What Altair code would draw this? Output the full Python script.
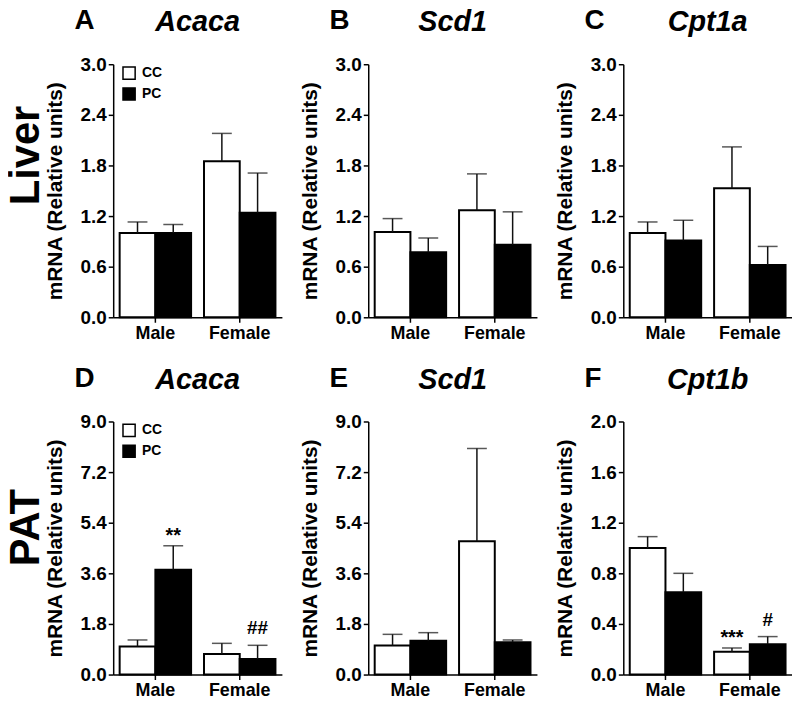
import altair as alt
import pandas as pd

letters = ["A", "B", "C", "D", "E", "F"]
genes = ["Acaca", "Scd1", "Cpt1a", "Acaca", "Scd1", "Cpt1b"]
tissues = ["Liver", "PAT"]
sexes = ["Male", "Female"]
groups = ["CC", "PC"]

# bar order in each panel: Male-CC, Male-PC, Female-CC, Female-PC
means = [
    [1.00, 1.00, 1.85, 1.24],
    [1.01, 0.77, 1.27, 0.86],
    [1.00, 0.91, 1.53, 0.62],
    [1.00, 3.73, 0.73, 0.55],
    [1.03, 1.20, 4.74, 1.15],
    [1.00, 0.65, 0.18, 0.24],
]
sems = [
    [0.13, 0.10, 0.33, 0.47],
    [0.16, 0.17, 0.43, 0.39],
    [0.13, 0.24, 0.49, 0.22],
    [0.23, 0.85, 0.38, 0.49],
    [0.40, 0.29, 3.30, 0.08],
    [0.09, 0.15, 0.03, 0.06],
]
y_max = [3.0, 3.0, 3.0, 9.0, 9.0, 2.0]
y_step = [0.6, 0.6, 0.6, 1.8, 1.8, 0.4]
sig_marks = [
    ["", "", "", ""],
    ["", "", "", ""],
    ["", "", "", ""],
    ["", "**", "", "##"],
    ["", "", "", ""],
    ["", "", "***", "#"],
]

FONT = "Liberation Sans"
W, H = 170, 255


def panel(i):
    df = pd.DataFrame({
        "sex": [s for s in sexes for g in groups],
        "group": [g for s in sexes for g in groups],
        "mean": means[i],
        "upper": [m + e for m, e in zip(means[i], sems[i])],
        "star": [m if "*" in m else "" for m in sig_marks[i]],
        "hash": [m if "#" in m else "" for m in sig_marks[i]],
    })
    base = alt.Chart(df)
    x = alt.X("sex:N", scale=alt.Scale(domain=sexes, paddingInner=0.153, paddingOuter=0.0765),
              axis=alt.Axis(title=None, labelAngle=0, labelPadding=2, labelFontSize=18))
    xo = alt.XOffset("group:N", scale=alt.Scale(domain=groups))
    ys = alt.Scale(domain=[0, y_max[i]], nice=False, zero=True)
    ticks = [round(k * y_step[i], 1) for k in range(6)]
    if i in (0, 3):
        leg = alt.Legend(title=None, orient="none", legendX=9, legendY=2, symbolType="square",
                         symbolSize=150, symbolStrokeColor="black", symbolStrokeWidth=1.5,
                         labelFontSize=14, labelFontWeight="bold", labelFont=FONT,
                         labelColor="black", rowPadding=1, labelOffset=6)
    else:
        leg = None
    bars = base.mark_bar(stroke="black", strokeWidth=2).encode(
        x=x, xOffset=xo,
        y=alt.Y("mean:Q", scale=ys, axis=alt.Axis(values=ticks, format=".1f", labelFontSize=19,
                                                   title="mRNA (Relative units)", titlePadding=15)),
        fill=alt.Fill("group:N", scale=alt.Scale(domain=groups, range=["white", "black"]), legend=leg),
    )
    rule = base.mark_rule(color="#111", strokeWidth=1.5).encode(
        x=x, xOffset=xo, y="upper:Q", y2="mean:Q")
    cap = base.mark_tick(orient="horizontal", size=20, thickness=1.5, color="#111").encode(
        x=x, xOffset=xo, y="upper:Q")
    stars = base.transform_filter(alt.datum.star != "").mark_text(
        font=FONT, fontSize=20, fontWeight="bold", dy=-4, baseline="alphabetic", color="black").encode(
        x=x, xOffset=xo, y="upper:Q", text="star:N")
    hashes = base.transform_filter(alt.datum.hash != "").mark_text(
        font=FONT, fontSize=19, fontWeight="bold", dy=-11, baseline="alphabetic", color="black").encode(
        x=x, xOffset=xo, y="upper:Q", text="hash:N")
    lab = pd.DataFrame({"letter": [letters[i]], "gene": [genes[i]], "tissue": [tissues[i // 3]]})
    lbase = alt.Chart(lab)
    letter = lbase.mark_text(font=FONT, fontSize=28, fontWeight="bold", align="left",
                             baseline="alphabetic", color="black").encode(
        x=alt.value(-39), y=alt.value(-35), text="letter:N")
    gene = lbase.mark_text(font=FONT, fontSize=29, fontWeight="bold", fontStyle="italic",
                           align="center", baseline="alphabetic", color="black").encode(
        x=alt.value(85), y=alt.value(-33), text="gene:N")
    layers = [bars, rule, cap, stars, hashes, letter, gene]
    if i in (0, 3):
        tis = lbase.mark_text(font=FONT, fontSize=42, fontWeight="bold", angle=270,
                              align="center", baseline="middle", color="black").encode(
            x=alt.value(-88), y=alt.value(92 if i == 0 else 107), text="tissue:N")
        layers.append(tis)
    return alt.layer(*layers).properties(width=W, height=H)


chart = alt.concat(
    *[panel(i) for i in range(6)], columns=3,
    spacing={"row": 105, "column": 87}, bounds="flush"
).resolve_scale(fill="independent").resolve_legend(fill="independent").properties(
    padding={"left": -3, "top": -3, "right": 0, "bottom": 0}, background="white"
).configure_view(stroke=None).configure_axis(
    grid=False, domainColor="black", domainWidth=1.5, tickColor="black", tickWidth=1.5,
    tickSize=5, labelFont=FONT, labelFontWeight="bold", labelFontSize=18, labelColor="black",
    titleFont=FONT, titleFontWeight="bold", titleFontSize=21, titleColor="black", labelPadding=2
)

chart.save("out.html", embed_options={"renderer": "svg", "actions": False})
